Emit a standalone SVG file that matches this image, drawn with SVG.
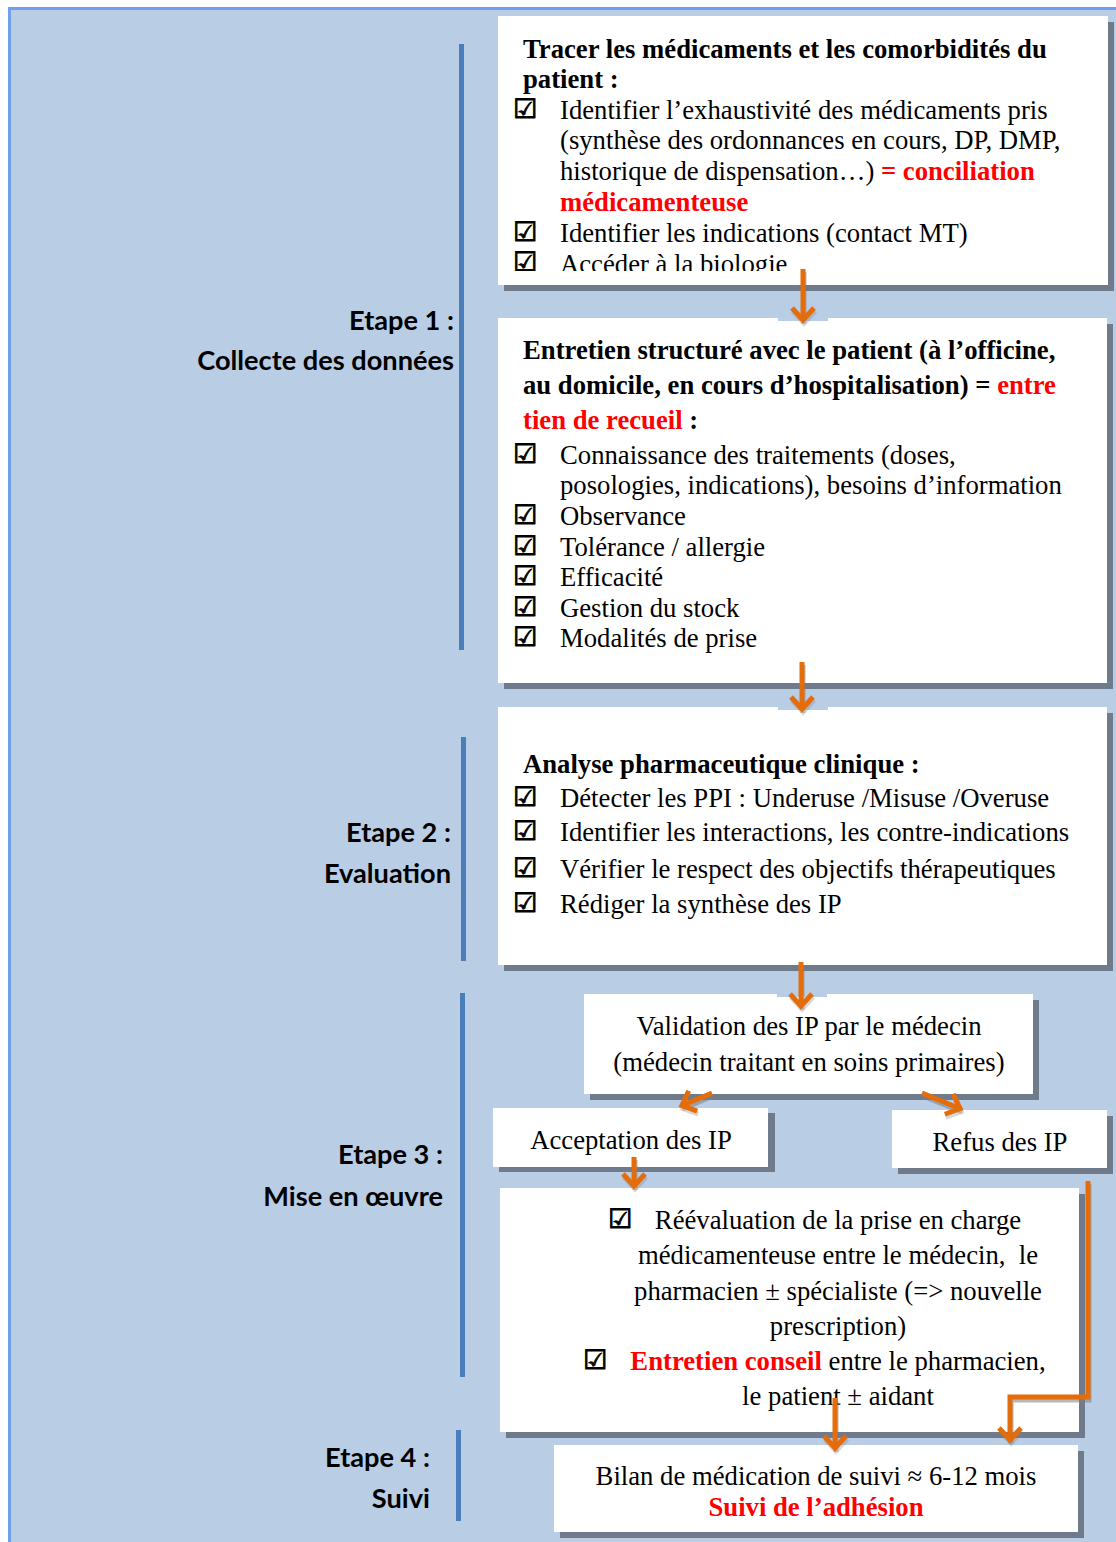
<svg xmlns="http://www.w3.org/2000/svg" width="1116" height="1542" viewBox="0 0 1116 1542">
<style>
.bg{fill:#B9CDE5;stroke:#6E9FF2;stroke-width:3}
.box{fill:#FFFFFF}
.sh{fill:#6F7B8B}
.bar{fill:#4A7EBB}
.t{font-family:"Liberation Serif","Times New Roman",serif;font-size:26.7px;fill:#000}
.b{font-weight:bold}
.r{font-weight:bold;fill:#FF0000}
.cb{font-family:"DejaVu Sans",sans-serif;font-size:27px;fill:#000;stroke:#000;stroke-width:0.9}
.lbl{font-family:Lato,"Open Sans",sans-serif;font-weight:bold;font-size:27.2px;fill:#000;text-anchor:end}
.mid{text-anchor:middle}
.arr{fill:none;stroke:#E46C0A;stroke-width:5}
.ash{fill:none;stroke:#7F7F7F;stroke-width:5;opacity:0.55}
.notch{fill:#B9CDE5}
</style>
<defs>
<marker id="ah" markerUnits="userSpaceOnUse" markerWidth="40" markerHeight="40" viewBox="-20 -20 40 40" refX="0" refY="0" orient="auto" overflow="visible">
<path d="M-13,-11 L-1,0 L-13,11" fill="none" stroke="#E46C0A" stroke-width="5"/>
</marker>
<marker id="ahs" markerUnits="userSpaceOnUse" markerWidth="40" markerHeight="40" viewBox="-20 -20 40 40" refX="0" refY="0" orient="auto" overflow="visible">
<path d="M-13,-11 L-1,0 L-13,11" fill="none" stroke="#7F7F7F" stroke-width="5" opacity="0.55"/>
</marker>
<clipPath id="c1"><rect x="498" y="16" width="610" height="255"/></clipPath>
</defs>

<rect class="bg" x="9.5" y="8.5" width="1120" height="1560"/>

<g id="labels">
<rect class="bar" x="459" y="44" width="5" height="606"/>
<text class="lbl" x="454" y="330">Etape 1 :</text>
<text class="lbl" x="454" y="370">Collecte des données</text>
<rect class="bar" x="461" y="737" width="5" height="224"/>
<text class="lbl" x="451" y="842">Etape 2 :</text>
<text class="lbl" x="451" y="883">Evaluation</text>
<rect class="bar" x="460" y="993" width="5" height="384"/>
<text class="lbl" x="443" y="1164">Etape 3 :</text>
<text class="lbl" x="443" y="1206">Mise en œuvre</text>
<rect class="bar" x="456" y="1430" width="5" height="91"/>
<text class="lbl" x="430" y="1467">Etape 4 :</text>
<text class="lbl" x="430" y="1508">Suivi</text>
</g>

<g id="n1">
<rect class="sh" x="504" y="22" width="610" height="269"/>
<rect class="box" x="498" y="16" width="610" height="269"/>
<g clip-path="url(#c1)">
<text class="t b" x="523" y="58">Tracer les médicaments et les comorbidités du</text>
<text class="t b" x="523" y="88">patient :</text>
<text class="cb" x="513" y="118">☑</text>
<text class="t" x="560" y="119">Identifier l’exhaustivité des médicaments pris</text>
<text class="t" x="560" y="149">(synthèse des ordonnances en cours, DP, DMP,</text>
<text class="t" x="560" y="180">historique de dispensation…) <tspan class="r">= conciliation</tspan></text>
<text class="t r" x="560" y="211">médicamenteuse</text>
<text class="cb" x="513" y="241">☑</text>
<text class="t" x="560" y="242">Identifier les indications (contact MT)</text>
<text class="cb" x="513" y="271">☑</text>
<text class="t" x="560" y="273">Accéder à la biologie</text>
</g>
</g>

<g id="n2">
<rect class="sh" x="504" y="324" width="609" height="365"/>
<rect class="box" x="498" y="318" width="609" height="365"/>
<text class="t b" x="523" y="359">Entretien structuré avec le patient (à l’officine,</text>
<text class="t b" x="523" y="394">au domicile, en cours d’hospitalisation) = <tspan class="r">entre</tspan></text>
<text class="t b" x="523" y="429"><tspan class="r">tien de recueil</tspan> :</text>
<text class="cb" x="513" y="463">☑</text>
<text class="t" x="560" y="464">Connaissance des traitements (doses,</text>
<text class="t" x="560" y="494">posologies, indications), besoins d’information</text>
<text class="cb" x="513" y="524">☑</text>
<text class="t" x="560" y="525">Observance</text>
<text class="cb" x="513" y="555">☑</text>
<text class="t" x="560" y="556">Tolérance / allergie</text>
<text class="cb" x="513" y="585">☑</text>
<text class="t" x="560" y="586">Efficacité</text>
<text class="cb" x="513" y="616">☑</text>
<text class="t" x="560" y="617">Gestion du stock</text>
<text class="cb" x="513" y="646">☑</text>
<text class="t" x="560" y="647">Modalités de prise</text>
</g>

<g id="n3">
<rect class="sh" x="504" y="713" width="609" height="258"/>
<rect class="box" x="498" y="707" width="609" height="258"/>
<text class="t b" x="523" y="773">Analyse pharmaceutique clinique :</text>
<text class="cb" x="513" y="806">☑</text>
<text class="t" x="560" y="807">Détecter les PPI : Underuse /Misuse /Overuse</text>
<text class="cb" x="513" y="840">☑</text>
<text class="t" x="560" y="841">Identifier les interactions, les contre-indications</text>
<text class="cb" x="513" y="877">☑</text>
<text class="t" x="560" y="878">Vérifier le respect des objectifs thérapeutiques</text>
<text class="cb" x="513" y="912">☑</text>
<text class="t" x="560" y="913">Rédiger la synthèse des IP</text>
</g>

<g id="n4">
<rect class="sh" x="590" y="1000" width="449" height="100"/>
<rect class="box" x="584" y="994" width="449" height="100"/>
<text class="t mid" x="809" y="1035">Validation des IP par le médecin</text>
<text class="t mid" x="809" y="1071">(médecin traitant en soins primaires)</text>
</g>

<g id="n5">
<rect class="sh" x="499" y="1113" width="276" height="59"/>
<rect class="box" x="493" y="1108" width="275" height="59"/>
<text class="t mid" x="631" y="1149">Acceptation des IP</text>
</g>

<g id="n6">
<rect class="sh" x="898" y="1116" width="215" height="58"/>
<rect class="box" x="892" y="1110" width="215" height="58"/>
<text class="t mid" x="1000" y="1151">Refus des IP</text>
</g>

<g id="n7">
<rect class="sh" x="506" y="1194" width="579" height="244"/>
<rect class="box" x="500" y="1188" width="579" height="244"/>
<text class="cb" x="608" y="1228">☑</text>
<text class="t mid" x="838" y="1229">Réévaluation de la prise en charge</text>
<text class="t mid" x="838" y="1264">médicamenteuse entre le médecin,&#160; le</text>
<text class="t mid" x="838" y="1300">pharmacien ± spécialiste (=&gt; nouvelle</text>
<text class="t mid" x="838" y="1335">prescription)</text>
<text class="cb" x="583" y="1369">☑</text>
<text class="t mid" x="838" y="1370"><tspan class="r">Entretien conseil</tspan> entre le pharmacien,</text>
<text class="t mid" x="838" y="1405">le patient ± aidant</text>
</g>

<g id="n8">
<rect class="sh" x="560" y="1451" width="524" height="87"/>
<rect class="box" x="554" y="1445" width="524" height="87"/>
<text class="t mid" x="816" y="1485">Bilan de médication de suivi ≈ 6-12 mois</text>
<text class="t r mid" x="816" y="1516">Suivi de l’adhésion</text>
</g>

<g id="connectors">
<rect class="notch" x="778" y="318" width="50" height="3"/>
<rect class="notch" x="778" y="707" width="50" height="3"/>
<rect class="notch" x="777" y="994" width="50" height="3"/>
<path class="ash" d="M804,272 V324" marker-end="url(#ahs)"/>
<path class="arr" d="M803,269 V321" marker-end="url(#ah)"/>
<path class="ash" d="M803,665 V713" marker-end="url(#ahs)"/>
<path class="arr" d="M802,662 V710" marker-end="url(#ah)"/>
<path class="ash" d="M802,965 V1010" marker-end="url(#ahs)"/>
<path class="arr" d="M801,962 V1007" marker-end="url(#ah)"/>
<path class="ash" d="M713,1096 L682,1109" marker-end="url(#ahs)"/>
<path class="arr" d="M712,1093 L681,1106" marker-end="url(#ah)"/>
<path class="ash" d="M923,1096 L962,1112" marker-end="url(#ahs)"/>
<path class="arr" d="M922,1093 L961,1109" marker-end="url(#ah)"/>
<path class="ash" d="M635,1160 V1190" marker-end="url(#ahs)"/>
<path class="arr" d="M634,1157 V1187" marker-end="url(#ah)"/>
<path class="ash" d="M836,1401 V1452" marker-end="url(#ahs)"/>
<path class="arr" d="M835,1398 V1449" marker-end="url(#ah)"/>
<path class="ash" d="M1089,1184 V1400 H1011 V1444" marker-end="url(#ahs)"/>
<path class="arr" d="M1088,1181 V1397 H1010 V1441" marker-end="url(#ah)"/>
</g>
</svg>
